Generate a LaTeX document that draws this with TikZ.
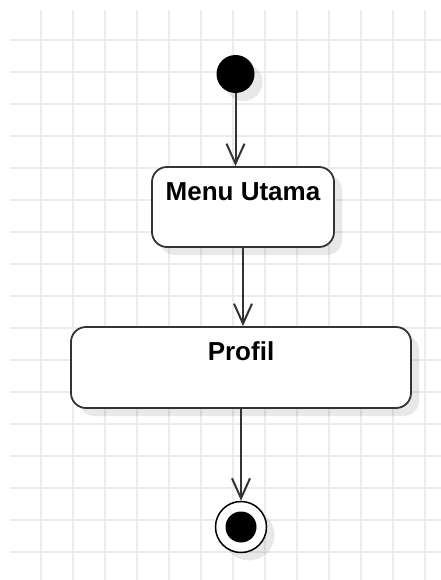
\documentclass[tikz,border=0pt]{standalone}
\usepackage{fontspec}
\setmainfont{Liberation Sans}
\usetikzlibrary{arrows.meta,shadows}
\definecolor{gridgray}{RGB}{236,236,236}
\definecolor{linegray}{RGB}{51,51,51}
\tikzset{
  gridline/.style={draw=gridgray, line width=1.5pt},
  flow/.style={draw=linegray, line width=2pt,
    -{Straight Barb[length=20pt,width=18pt,line width=2pt]}},
  softshadow/.style={drop shadow={shadow xshift=8pt, shadow yshift=-8pt,
    fill=black, opacity=.09}},
  activity/.style={rectangle, rounded corners=15pt, draw=linegray,
    line width=1.8pt, fill=white, inner sep=0pt, text height=33pt,
    font=\fontsize{26}{31}\selectfont\bfseries, softshadow},
}
\begin{document}
\begin{tikzpicture}[x=1pt, y=-1pt]

  \useasboundingbox (0,0) rectangle (441,580);

  % grid
  \foreach \x in {41,73,...,425}
    \draw[gridline] (\x,10) -- (\x,580);
  \foreach \y in {40,72,...,552}
    \draw[gridline] (10,\y) -- (441,\y);

  \node[circle, fill=black, minimum size=38pt, inner sep=0pt, softshadow] (start) at (235.5,74) {};

  \node[activity, minimum width=182pt, text depth=47pt] (menu) at (243,207) {Menu Utama};
  \node[activity, minimum width=340pt, text depth=48pt] (profil) at (241,367.5) {Profil};

  \node[circle, draw=black, line width=1.5pt, fill=white, minimum size=51pt, inner sep=0pt, softshadow] (end) at (241,527) {};
  \node[circle, fill=black, minimum size=31pt, inner sep=0pt] (endDot) at (end) {};

  \draw[flow] (start) -- (menu.north -| start);
  \draw[flow] (menu.south) -- (menu.south |- profil.north);
  \draw[flow] (profil.south) -- (end);

\end{tikzpicture}
\end{document}
